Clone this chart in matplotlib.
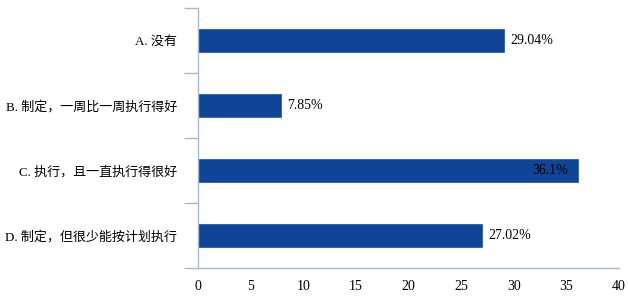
import matplotlib
matplotlib.use("Agg")
import matplotlib.pyplot as plt
from matplotlib.ticker import FixedLocator

categories = ["A. 没有", "B. 制定，一周比一周执行得好", "C. 执行，且一直执行得很好", "D. 制定，但很少能按计划执行"]
values = [29.04, 7.85, 36.1, 27.02]
value_labels = ["29.04%", "7.85%", "36.1%", "27.02%"]
xticks = [0, 5, 10, 15, 20, 25, 30, 35, 40]

fam = ['Liberation Serif', 'Noto Sans CJK SC', 'DejaVu Sans']
plt.rcParams['font.family'] = fam

fig = plt.figure(figsize=(6.28, 2.97), dpi=100)
ax = fig.add_axes([198/628, 1-268/297, 421/628, 260/297])

n = len(categories)
ypos = list(range(n))
ax.barh(ypos, values, height=0.35, color='#0E4597', edgecolor='#2A5CA8', linewidth=0.6)
ax.set_ylim(n - 0.5, -0.5)
ax.set_xlim(0, 40)
ax.set_xticks(xticks)
ax.set_xticklabels([str(t) for t in xticks], fontsize=10)
ax.tick_params(axis='x', length=0, pad=9)
ax.set_yticks(ypos)
ax.set_yticklabels(categories, fontsize=9.4, fontweight='light')
ax.tick_params(axis='y', which='major', length=0, pad=15)
ax.yaxis.set_minor_locator(FixedLocator([i - 0.5 for i in range(n + 1)]))
ax.tick_params(axis='y', which='minor', length=10, color='#A9B9CC', width=1)

for s in ['top', 'right']:
    ax.spines[s].set_visible(False)
for s in ['left', 'bottom']:
    ax.spines[s].set_color('#A9B9CC')
    ax.spines[s].set_linewidth(1)

for i, (v, lab) in enumerate(zip(values, value_labels)):
    if v > 33:
        ax.text(v - 0.9, i, lab, ha='right', va='center', fontsize=10, color='black')
    else:
        ax.text(v + 0.6, i, lab, ha='left', va='center', fontsize=10, color='black')

fig.savefig("out.png", dpi=100)
